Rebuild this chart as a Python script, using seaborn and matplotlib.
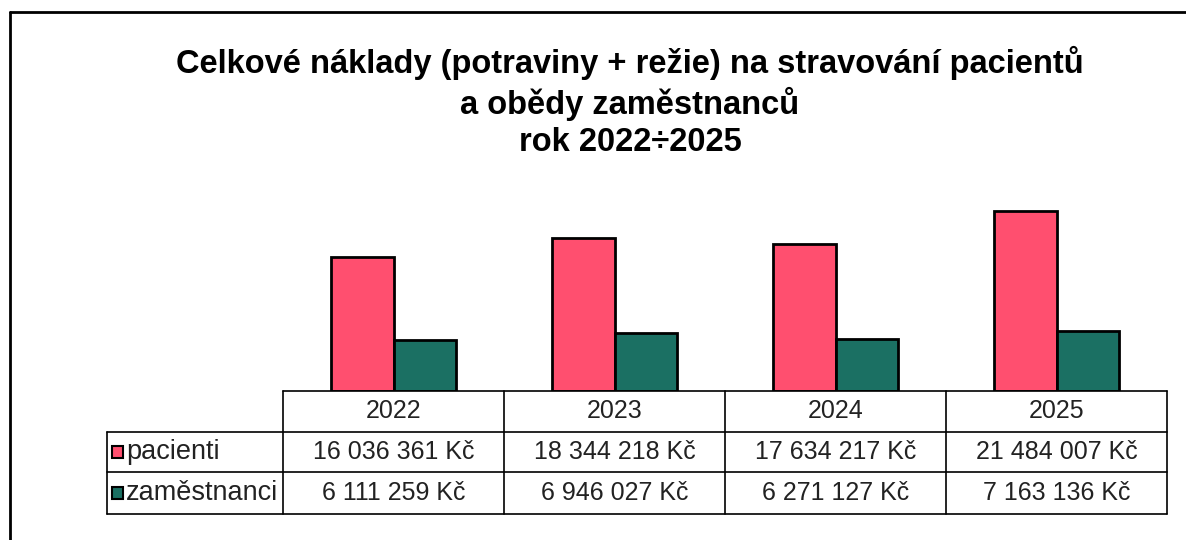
import matplotlib
matplotlib.use("Agg")
import matplotlib.pyplot as plt
import matplotlib.transforms as mtransforms
import seaborn as sns
import pandas as pd

years = ["2022", "2023", "2024", "2025"]
series_names = ["pacienti", "zaměstnanci"]
pacienti = [16036361, 18344218, 17634217, 21484007]
zamestnanci = [6111259, 6946027, 6271127, 7163136]
title = "Celkové náklady (potraviny + režie) na stravování pacientů\na obědy zaměstnanců\nrok 2022÷2025"
colors = ["#FF4F6F", "#1B7063"]

df = pd.DataFrame({
    "rok": years * 2,
    "serie": [series_names[0]] * 4 + [series_names[1]] * 4,
    "hodnota": pacienti + zamestnanci,
})

sns.set_theme(style="white")
plt.rcParams["font.family"] = ["Liberation Sans", "DejaVu Sans"]

W, H = 1186, 540
fig = plt.figure(figsize=(W / 100, H / 100), dpi=100)
fig.patch.set_facecolor("white")

def fx(px):
    return px / W

def fy(py):
    return 1 - py / H

ax = fig.add_axes([fx(283), fy(391), fx(1167) - fx(283), fy(182) - fy(391)])
sns.barplot(data=df, x="rok", y="hodnota", hue="serie", palette=colors,
            width=0.57, edgecolor="black", linewidth=2, ax=ax, legend=False,
            saturation=1)
ax.set_xlim(-0.5, 3.5)
ax.set_ylim(0, 25e6)
ax.set_xlabel("")
ax.set_ylabel("")
ax.set_xticks([])
ax.set_yticks([])
for s in ax.spines.values():
    s.set_visible(False)
ax.set_facecolor("none")

# outer chart border (top and left visible)
fig.add_artist(plt.Line2D([fx(10), 1], [fy(12), fy(12)], color="black", lw=2))
fig.add_artist(plt.Line2D([fx(10), fx(10)], [fy(12), 0], color="black", lw=2))

# title
fig.text(fx(630), fy(102), title, ha="center", va="center", fontsize=23.5,
         fontweight="bold", color="black", linespacing=1.24)

# data table
tr = mtransforms.blended_transform_factory(ax.transData, fig.transFigure)
x_label_left = -0.5 - (283 - 107) / 221
y_rows = [fy(391), fy(432), fy(472), fy(514)]
lw = 1.2
fig.add_artist(plt.Line2D([-0.5, 3.5], [y_rows[0]] * 2, transform=tr, color="black", lw=lw))
for y in y_rows[1:]:
    fig.add_artist(plt.Line2D([x_label_left, 3.5], [y, y], transform=tr, color="black", lw=lw))
for xb in [-0.5, 0.5, 1.5, 2.5, 3.5]:
    fig.add_artist(plt.Line2D([xb, xb], [y_rows[0], y_rows[3]], transform=tr, color="black", lw=lw))
fig.add_artist(plt.Line2D([x_label_left, x_label_left], [y_rows[1], y_rows[3]], transform=tr, color="black", lw=lw))

fs = 18
for i, yr in enumerate(years):
    fig.text(i, (y_rows[0] + y_rows[1]) / 2, yr, transform=tr, ha="center", va="center", fontsize=fs, color="#222222")

def fmt(v):
    return f"{v:,}".replace(",", " ") + " Kč"

for r, vals in enumerate([pacienti, zamestnanci]):
    yc = (y_rows[r + 1] + y_rows[r + 2]) / 2
    for i, v in enumerate(vals):
        fig.text(i, yc, fmt(v), transform=tr, ha="center", va="center", fontsize=fs, color="#222222")
    fig.add_artist(plt.Rectangle((fx(112), yc - 6 / H), 11 / W, 12 / H,
                                 facecolor=colors[r], edgecolor="black", lw=1.5,
                                 transform=fig.transFigure))
    fig.text(fx(126), yc, series_names[r], ha="left", va="center", fontsize=19.5, color="#222222")

fig.savefig("out.png", dpi=100, facecolor="white")
